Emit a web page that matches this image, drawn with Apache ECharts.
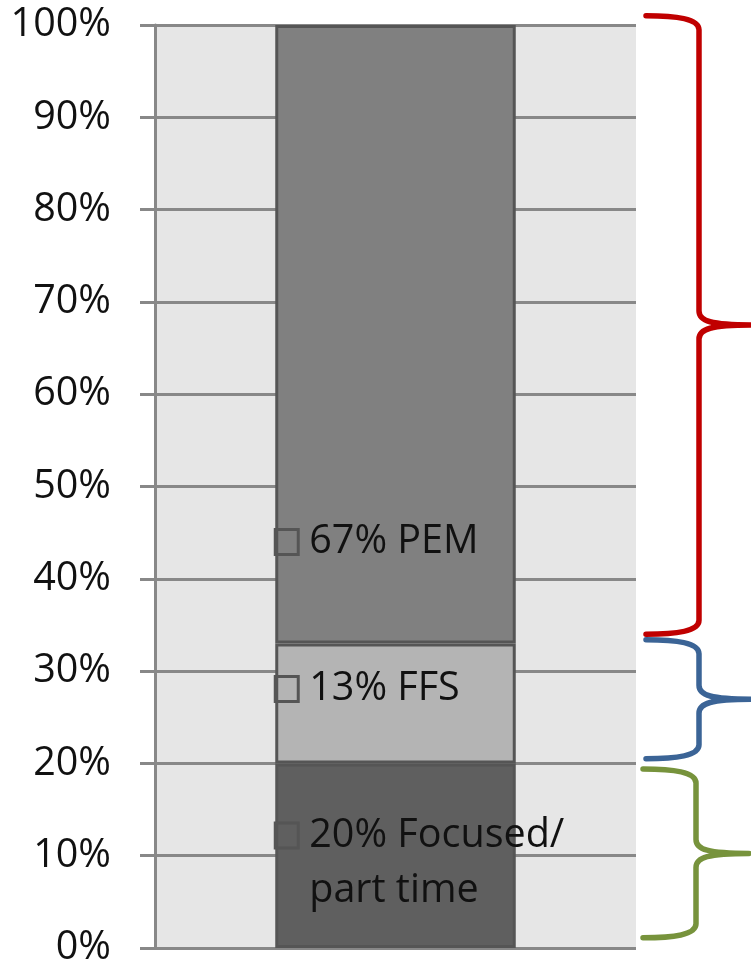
<!DOCTYPE html>
<html><head><meta charset="utf-8">
<script src="https://cdn.jsdelivr.net/npm/echarts@6/dist/echarts.min.js"></script>
<style>html,body{margin:0;padding:0;background:#fff}#c{width:751px;height:968px}</style>
</head><body><div id="c"></div>
<script>
// ---- data ----
const categories = ['Share'];
const segmentNames = ['Focused/\npart time', 'FFS', 'PEM'];
const segmentValues = [20, 13, 67];
const yTickLabels = ['0%','10%','20%','30%','40%','50%','60%','70%','80%','90%','100%'];
const braceLow = [34, 20.5, 1.1];
const braceHigh = [101, 33.4, 19.4];

// ---- styles ----
const segColors = ['#5f5f5f', '#b4b4b4', '#808080'];
const labelPos = [[0, '54%'], [0, '38%'], [0, '83.6%']];
const braceColors = ['#c00000', '#3b6496', '#77933c'];
const braceShift = [0, 0, -3];
const FONT = 'Open Sans';

const chart = echarts.init(document.getElementById('c'), null, {renderer: 'canvas'});

function labelFormatter(i) {
  return function (p) {
    const lines = segmentNames[i].split('\n');
    let s = '{box|}{g|}{t|' + segmentValues[i] + '% ' + lines[0] + '}';
    for (let k = 1; k < lines.length; k++) s += '\n{sp|}{t|' + lines[k] + '}';
    return s;
  };
}

const rich = {
  box: { width: 23, height: 25, borderColor: '#555', borderWidth: 3 },
  g: { width: 11 },
  sp: { width: 34 },
  t: { fontSize: 39.5, fontFamily: FONT, color: '#111', lineHeight: 55 }
};

const barSeries = segmentNames.map((n, i) => ({
  name: n,
  type: 'bar',
  stack: 'total',
  barWidth: '50%',
  data: [segmentValues[i]],
  itemStyle: { color: segColors[i], borderColor: '#555', borderWidth: 3 },
  label: {
    show: true,
    position: labelPos[i],
    align: 'left',
    verticalAlign: 'middle',
    formatter: labelFormatter(i),
    rich: rich
  },
  emphasis: { disabled: true }
}));

const braceSeries = {
  type: 'custom',
  silent: true,
  clip: false,
  data: braceLow.map((lo, i) => [0, lo, braceHigh[i], i]),
  encode: { x: 0, y: [1, 2] },
  renderItem: function (params, api) {
    const lo = api.value(1), hi = api.value(2), idx = api.value(3);
    const yt = api.coord([0, hi])[1], yb = api.coord([0, lo])[1];
    const cs = params.coordSys;
    const right = cs.x + cs.width + braceShift[idx];
    const x0 = right + 10, x1 = right + 63, xt = right + 116;
    const ym = (yt + yb) / 2;
    const d = [
      'M', x0, yt,
      'C', x0 + 30, yt, x1, yt + 3, x1, yt + 14,
      'L', x1, ym - 14,
      'C', x1, ym - 4, x1 + 12, ym, xt, ym,
      'C', x1 + 12, ym, x1, ym + 4, x1, ym + 14,
      'L', x1, yb - 14,
      'C', x1, yb - 3, x0 + 30, yb, x0, yb
    ].join(' ');
    return {
      type: 'path',
      shape: { pathData: d },
      style: { stroke: braceColors[idx], lineWidth: 5.5, fill: 'none', lineCap: 'round', lineJoin: 'round' }
    };
  }
};

chart.setOption({
  animation: false,
  grid: { left: 155, right: 115, top: 25, bottom: 13, show: true, backgroundColor: '#e6e6e6', borderWidth: 0 },
  xAxis: {
    type: 'category', data: categories,
    axisLine: { show: false }, axisTick: { show: false }, axisLabel: { show: false }, splitLine: { show: false }
  },
  yAxis: {
    type: 'value', min: 0, max: 100, interval: 10,
    axisLabel: {
      formatter: v => yTickLabels[Math.round(v / 10)],
      fontSize: 39.5, fontFamily: FONT, color: '#111', margin: 44
    },
    axisLine: { show: true, lineStyle: { color: '#888', width: 3 } },
    axisTick: { show: true, length: 15, lineStyle: { color: '#888', width: 3 } },
    splitLine: { show: true, lineStyle: { color: '#888', width: 3 } }
  },
  series: barSeries.concat([braceSeries])
});
</script>
</body></html>
